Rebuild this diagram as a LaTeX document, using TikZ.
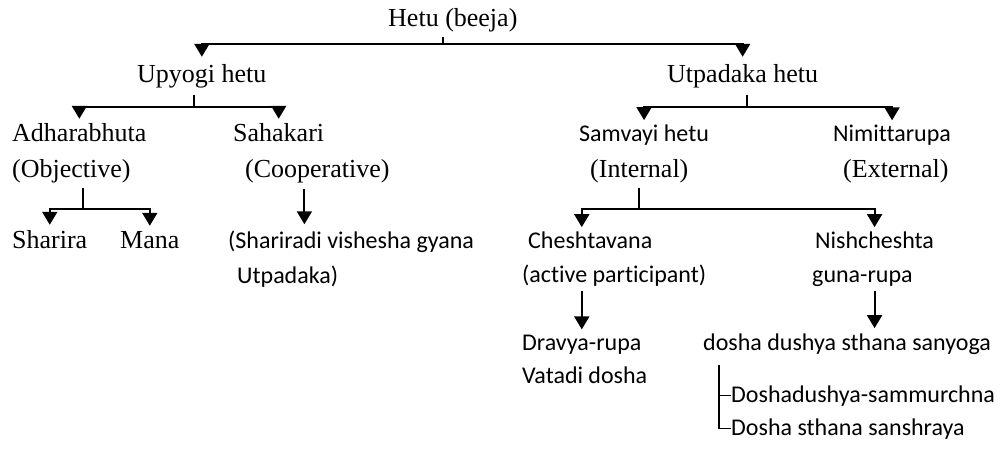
\documentclass[tikz,border=0pt]{standalone}
\usepackage{fontspec}
\setmainfont{Liberation Serif}
\newfontfamily\carlito[Ligatures=NoCommon]{Carlito}
\usetikzlibrary{arrows.meta}
\tikzstyle{romantext} = [inner sep=0pt, anchor=base west,
    font=\fontsize{26}{30}\selectfont]
\tikzstyle{sanstext} = [inner sep=0pt, anchor=base west,
    font=\carlito\fontsize{24}{28}\selectfont]
\tikzstyle{line} = [draw, line width=2pt]
\tikzstyle{arrow} = [line, -{Triangle[width=15pt,length=13pt]}]
\tikzstyle{bracket} = [draw, line width=1.2pt]

\begin{document}
\begin{tikzpicture}[x=1pt, y=-1pt]
	\useasboundingbox (0,0) rectangle (1003,462);
	\node [romantext] (Hetu) at (388,27) {Hetu (beeja)};
	\node [romantext] (Upyogi) at (137,83) {Upyogi hetu};
	\node [romantext] (Utpadaka) at (667,83) {Utpadaka hetu};
	\node [romantext] (Adharabhuta) at (12,142) {Adharabhuta};
	\node [romantext] (Objective) at ([yshift=-36pt]Adharabhuta.base west)
		{(Objective)};
	\node [romantext] (Sahakari) at (233,142) {Sahakari};
	\node [romantext] (Cooperative) at (245,178) {(Cooperative)};
	\node [sanstext] (Samvayi) at (579,142) {Samvayi hetu};
	\node [romantext] (Internal) at (590,178) {(Internal)};
	\node [sanstext] (Nimittarupa) at (833,142) {Nimittarupa};
	\node [romantext] (External) at (843,178) {(External)};
	\node [romantext] (Sharira) at (12,249) {Sharira};
	\node [romantext] (Mana) at (120,249) {Mana};
	\node [sanstext] (Shariradi) at (228,248) {(Shariradi vishesha gyana};
	\node [sanstext] (Utpadaka_close) at ([xshift=9pt,yshift=-35pt]Shariradi.base west)
		{Utpadaka)};
	\node [sanstext] (Cheshtavana) at (528,248) {Cheshtavana};
	\node [sanstext] (Active) at (522,282) {(active participant)};
	\node [sanstext] (Nishcheshta) at (815,248) {Nishcheshta};
	\node [sanstext] (Guna_rupa) at ([xshift=-3pt,yshift=-34pt]Nishcheshta.base west)
		{guna-rupa};
	\node [sanstext] (Dravya_rupa) at (522,350) {Dravya-rupa};
	\node [sanstext] (Vatadi) at ([yshift=-33pt]Dravya_rupa.base west) {Vatadi dosha};
	\node [sanstext] (Sanyoga) at (703,350) {dosha dushya sthana sanyoga};
	\node [sanstext] (Sammurchna) at (731,402) {Doshadushya-sammurchna};
	\node [sanstext] (Sanshraya) at ([yshift=-33pt]Sammurchna.base west)
		{Dosha sthana sanshraya};
	\coordinate (Hetu_fork) at (443,44);
	\coordinate (Upyogi_fork) at (194,107);
	\coordinate (Utpadaka_fork) at (747,107);
	\coordinate (Objective_fork) at (83,209);
	\coordinate (Internal_fork) at (639,209);
	\coordinate (Cooperative_end) at ([xshift=-13pt,yshift=-5pt]Cooperative.south);
	\coordinate (Bracket_top) at ([xshift=16pt,yshift=-11pt]Sanyoga.south west);
	\path [line, shorten <=4pt] (Hetu.south -| Hetu_fork) -- (Hetu_fork);
	\path [arrow, shorten >=8pt] (Hetu_fork) -| (Upyogi.north);
	\path [arrow, shorten >=8pt] (Hetu_fork) -| (Utpadaka.north);
	\path [line, shorten <=6pt] (Upyogi.south -| Upyogi_fork) -- (Upyogi_fork);
	\path [arrow, shorten >=5pt] (Upyogi_fork) -| (Adharabhuta.north);
	\path [arrow, shorten >=5pt] (Upyogi_fork) -| (Sahakari.north);
	\path [line, shorten <=6pt] (Utpadaka.south -| Utpadaka_fork) -- (Utpadaka_fork);
	\path [arrow, shorten >=5pt] (Utpadaka_fork) -| (Samvayi.north);
	\path [arrow, shorten >=5pt] (Utpadaka_fork) -| (Nimittarupa.north);
	\path [line, shorten <=4pt] (Objective.south -| Objective_fork) -- (Objective_fork);
	\path [arrow, shorten >=6pt] (Objective_fork) -| (Sharira.north);
	\path [arrow, shorten >=6pt] (Objective_fork) -| (Mana.north);
	\path [arrow, shorten >=6pt] (Cooperative_end) -- (Cooperative_end |- Shariradi.north);
	\path [line, shorten <=4pt] (Internal.south -| Internal_fork) -- (Internal_fork);
	\path [arrow, shorten >=4pt] (Internal_fork) -| (Dravya_rupa.north |- Cheshtavana.north);
	\path [arrow, shorten >=4pt] (Internal_fork) -| (Nishcheshta.north);
	\path [arrow, shorten <=5pt, shorten >=5pt] (Active.south -| Dravya_rupa)
		-- (Dravya_rupa.north);
	\path [arrow, shorten <=5pt, shorten >=5pt] (Guna_rupa.south -| Nishcheshta)
		-- (Nishcheshta |- Sanyoga.north);
	\path [bracket] (Bracket_top) |- (Sammurchna.west);
	\path [bracket] (Bracket_top) |- (Sanshraya.west);
\end{tikzpicture}
\end{document}
